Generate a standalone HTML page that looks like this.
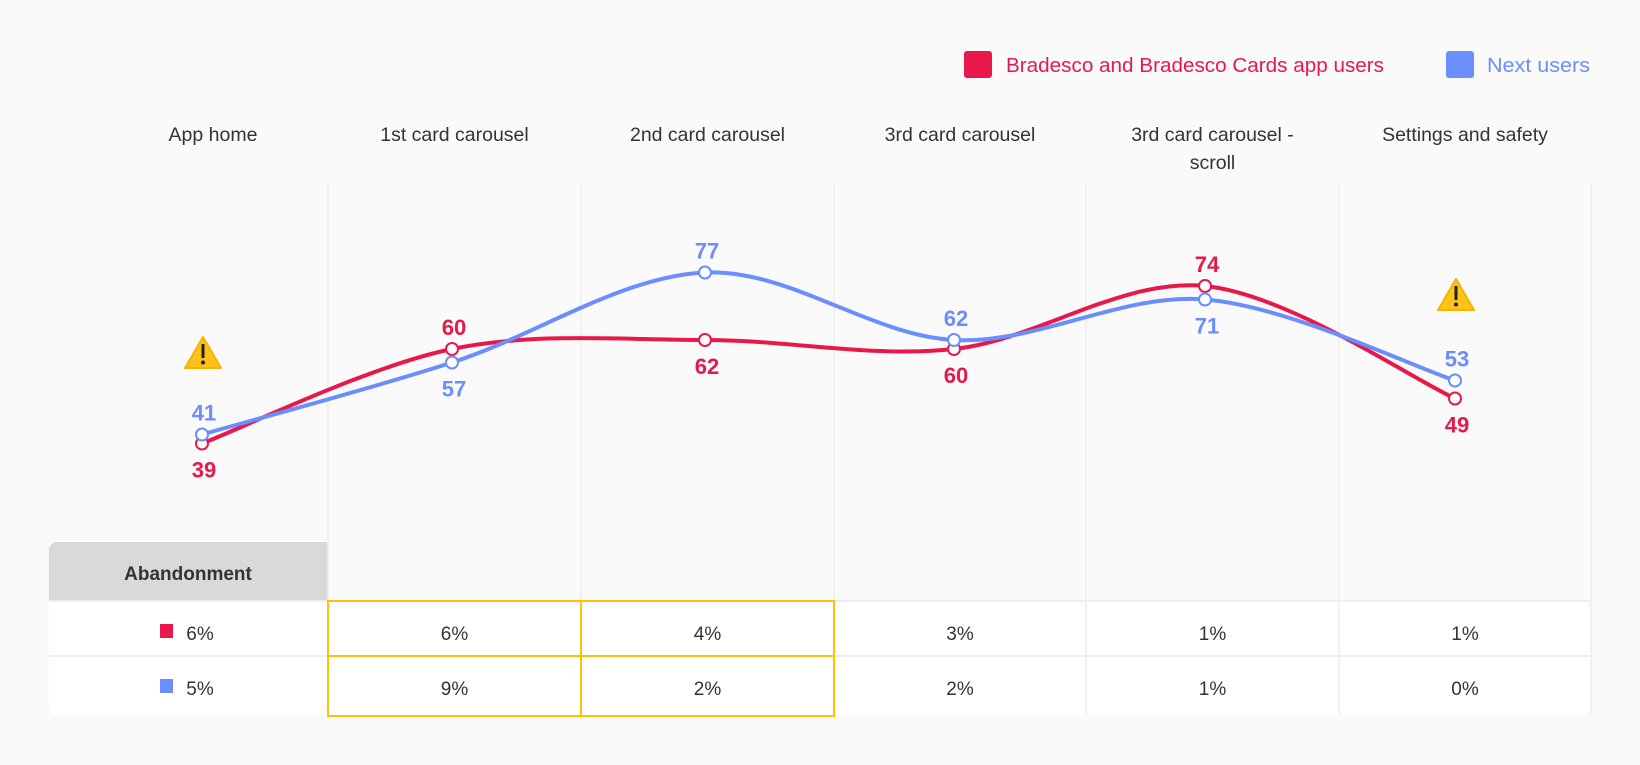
<!DOCTYPE html>
<html><head><meta charset="utf-8"><style>
body{margin:0;background:#fafafa;font-family:"Liberation Sans",sans-serif;}
#wrap{position:relative;width:1640px;height:765px;overflow:hidden;background:#fafafa;}
</style></head><body>
<div id="wrap">
<svg id="svg" width="1640" height="765"></svg>
</div>
<script>
const categories=["App home","1st card carousel","2nd card carousel","3rd card carousel","3rd card carousel - scroll","Settings and safety"];
const redValues=[39,60,62,60,74,49];
const blueValues=[41,57,77,62,71,53];
const redAbandon=["6%","6%","4%","3%","1%","1%"];
const blueAbandon=["5%","9%","2%","2%","1%","0%"];
const warnings=[true,false,false,false,false,true];
const highlight=[false,true,true,false,false,false];

const NS="http://www.w3.org/2000/svg";
const svg=document.getElementById('svg');
const RED="#e8194a",BLUE="#6b8eff";
const colEdges=[49,328,581,834,1086,1339,1591];
const ptX=[202,452,705,954,1205,1455];
function x(i){return ptX[i];}
function y(v){return 443.5-(v-39)*4.5;}
function el(t,a,p){const e=document.createElementNS(NS,t);for(const k in a)e.setAttribute(k,a[k]);(p||svg).appendChild(e);return e;}
function txt(s,a){const e=el('text',a);e.textContent=s;return e;}

// legend
let r=el('rect',{x:964,y:51,width:28,height:27,rx:3,fill:RED});

let t=txt("Bradesco and Bradesco Cards app users",{x:1006,y:72,'font-size':20,fill:RED,textLength:378,lengthAdjust:'spacingAndGlyphs'});

r=el('rect',{x:1446,y:51,width:28,height:27,rx:3,fill:BLUE});

t=txt("Next users",{x:1487,y:72,'font-size':20,fill:BLUE,textLength:103,lengthAdjust:'spacingAndGlyphs'});


// table background
let tb=el('rect',{x:49,y:542,width:1542,height:173,rx:8,fill:"#fff"});

let bg2=el('rect',{x:328,y:542,width:1263,height:59,fill:"#fafafa"});

let hd=el('path',{d:"M49,600 V550 a8,8 0 0 1 8,-8 H328 V600 Z",fill:"#d9d9d9"});

t=txt("Abandonment",{x:188,y:580,'font-size':19,'font-weight':'bold','text-anchor':'middle',fill:"#333"});

el('line',{x1:49,x2:1591,y1:601,y2:601,stroke:"#eee",'stroke-width':2});
el('line',{x1:49,x2:1591,y1:656,y2:656,stroke:"#eee",'stroke-width':2});

// vertical dividers
for(let i=1;i<colEdges.length;i++){
  const l=el('line',{x1:colEdges[i],x2:colEdges[i],y1:183,y2:715,stroke:"#eeeeee",'stroke-width':1.5});
  
}

categories.forEach((c,i)=>{
  const cx=(colEdges[i]+colEdges[i+1])/2;
  const hx=i==0?213:cx;
  const parts=c==="3rd card carousel - scroll"?["3rd card carousel -","scroll"]:[c];
  parts.forEach((p,j)=>{
    const h=txt(p,{x:hx,y:141+j*28,'font-size':19.5,'text-anchor':'middle',fill:"#333"});
    
  });
  [[redAbandon,640,RED],[blueAbandon,695,BLUE]].forEach(([arr,yy,col])=>{
    const ax=i==0?200:cx;
    if(i==0){
      const s=el('rect',{x:160,y:yy-16,width:13,height:14,fill:col});
      
    }
    const a=txt(arr[i],{x:ax,y:yy,'font-size':19,'text-anchor':'middle',fill:"#333"});
    
  });
  if(highlight[i]){
    const hb=el('rect',{x:colEdges[i],y:601,width:colEdges[i+1]-colEdges[i],height:55,fill:"none",stroke:"#ffc107",'stroke-width':2});
    
    const hb2=el('rect',{x:colEdges[i],y:656,width:colEdges[i+1]-colEdges[i],height:60,fill:"none",stroke:"#ffc107",'stroke-width':2});
    
  }
});

function spline(vals){
  const p=vals.map((v,i)=>[x(i),y(v)]);
  let d="M"+p[0][0]+","+p[0][1];
  for(let i=0;i<p.length-1;i++){
    const p0=p[i-1]||p[i],p1=p[i],p2=p[i+1],p3=p[i+2]||p2;
    const k=1/6;
    d+=` C${p1[0]+(p2[0]-p0[0])*k},${p1[1]+(p2[1]-p0[1])*k} ${p2[0]-(p3[0]-p1[0])*k},${p2[1]-(p3[1]-p1[1])*k} ${p2[0]},${p2[1]}`;
  }
  return d;
}
function series(vals,col,name,other){
  const l=el('path',{d:spline(vals),fill:"none",stroke:col,'stroke-width':4});
  
  vals.forEach((v,i)=>{
    const c=el('circle',{cx:x(i),cy:y(v),r:6,fill:"#fff",stroke:col,'stroke-width':2});
    
    const above=v>=other[i];
    const lb=txt(String(v),{x:x(i)+2,y:above?y(v)-14:y(v)+34,'font-size':22,'font-weight':'bold','text-anchor':'middle',fill:col});
    
  });
}
series(redValues,RED,'bradesco',blueValues);
series(blueValues,BLUE,'next',redValues);

warnings.forEach((w,i)=>{
  if(!w)return;
  const g=el('g',{transform:`translate(${x(i)+1},${i==0?354:296})`});
  
  el('path',{d:"M0,-17 L18,14 H-18 Z",fill:"#ffc21a",stroke:"#f5b400",'stroke-width':2,'stroke-linejoin':'round'},g);
  el('rect',{x:-1.5,y:-10,width:3,height:14,fill:"#222"},g);
  el('circle',{cx:0,cy:8.5,r:2,fill:"#222"},g);
});
</script>
</body></html>
